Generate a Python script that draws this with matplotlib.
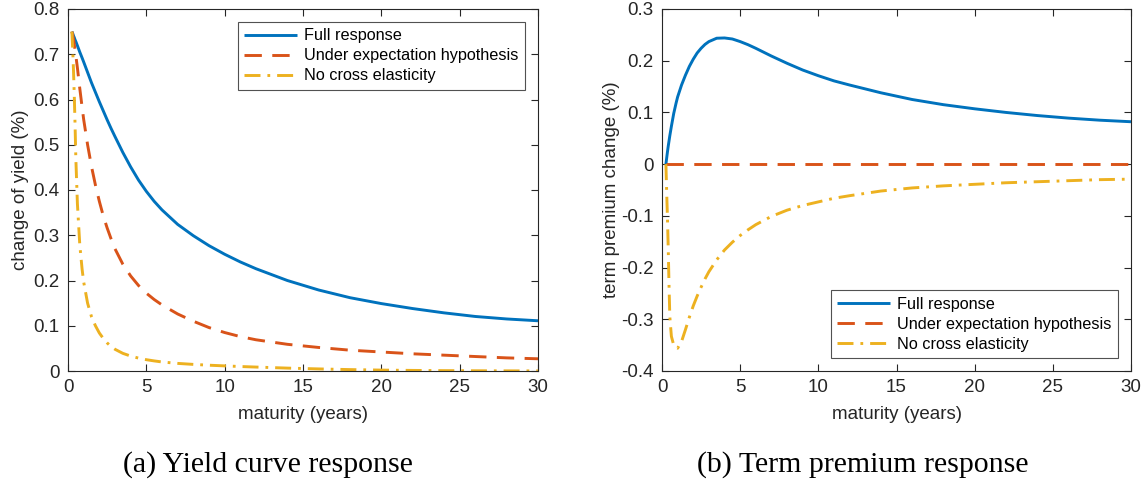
import matplotlib
matplotlib.use('Agg')
import matplotlib.pyplot as plt

plt.rcParams['font.family'] = ['Liberation Sans', 'DejaVu Sans']
plt.rcParams['axes.unicode_minus'] = False
plt.rcParams['lines.scale_dashes'] = False

# maturities (years)
maturity = [0.25, 0.3, 0.35, 0.4, 0.45, 0.5, 0.6, 0.75, 0.9, 1, 1.25, 1.5, 1.75, 2, 2.25,
            2.5, 2.75, 3, 3.5, 4, 4.5, 5, 5.5, 6, 7, 8, 9, 10, 11, 12, 14, 16, 18, 20,
            22, 24, 26, 28, 30]

# (a) yield curve response
yield_full = [0.750, 0.746, 0.741, 0.737, 0.732, 0.728, 0.719, 0.705, 0.692, 0.683, 0.660,
              0.637, 0.616, 0.595, 0.575, 0.555, 0.536, 0.518, 0.483, 0.451, 0.422, 0.397,
              0.375, 0.356, 0.324, 0.299, 0.277, 0.258, 0.241, 0.226, 0.200, 0.179, 0.162,
              0.149, 0.138, 0.1285, 0.1205, 0.115, 0.111]
yield_eh = [0.750, 0.742, 0.733, 0.722, 0.710, 0.697, 0.670, 0.625, 0.583, 0.556, 0.500,
            0.452, 0.411, 0.375, 0.343, 0.316, 0.292, 0.270, 0.236, 0.210, 0.189, 0.172,
            0.158, 0.146, 0.126, 0.110, 0.096, 0.085, 0.076, 0.069, 0.059, 0.052, 0.046,
            0.042, 0.038, 0.035, 0.032, 0.029, 0.027]
yield_nocross = [0.750, 0.710, 0.665, 0.610, 0.545, 0.470, 0.370, 0.280, 0.225, 0.197, 0.150,
                 0.120, 0.100, 0.084, 0.072, 0.062, 0.054, 0.048, 0.039, 0.033, 0.0285, 0.025,
                 0.0223, 0.020, 0.0168, 0.0146, 0.0128, 0.0113, 0.0099, 0.0087, 0.0064, 0.0046,
                 0.0031, 0.0020, 0.0013, 0.0008, 0.0005, 0.0003, 0.0002]

# (b) term premium response
tp_full = [0.0, 0.012, 0.024, 0.035, 0.045, 0.055, 0.073, 0.098, 0.118, 0.130, 0.153,
           0.172, 0.189, 0.203, 0.215, 0.224, 0.2315, 0.237, 0.2435, 0.244, 0.242, 0.237,
           0.231, 0.224, 0.209, 0.195, 0.182, 0.171, 0.161, 0.153, 0.138, 0.125, 0.115,
           0.107, 0.100, 0.094, 0.089, 0.085, 0.082]
tp_eh = [0.0] * len(maturity)
tp_nocross = [0.0, -0.055, -0.105, -0.165, -0.235, -0.295, -0.333, -0.350, -0.355, -0.356, -0.343,
              -0.320, -0.296, -0.274, -0.255, -0.238, -0.222, -0.208, -0.185, -0.166, -0.151, -0.138,
              -0.127, -0.117, -0.101, -0.089, -0.080, -0.073, -0.066, -0.061, -0.052, -0.046, -0.042,
              -0.039, -0.036, -0.034, -0.032, -0.030, -0.029]

labels = ['Full response', 'Under expectation hypothesis', 'No cross elasticity']
colors = ['#0072BD', '#D95319', '#EDB120']
dash_styles = [(0, ()), (0, (12.5, 7.5)), (0, (11.5, 5, 2, 5))]
grey = '#262626'
fs = 13.5

fig = plt.figure(figsize=(11.43, 4.83), dpi=100)
ax1 = fig.add_axes([68 / 1143, 1 - 371 / 483, 470 / 1143, 362 / 483])
ax2 = fig.add_axes([662 / 1143, 1 - 371 / 483, 469 / 1143, 362 / 483])

for ax, series in [(ax1, [yield_full, yield_eh, yield_nocross]),
                   (ax2, [tp_full, tp_eh, tp_nocross])]:
    for s, c, ls, lab in zip(series, colors, dash_styles, labels):
        ax.plot(maturity, s, color=c, linestyle=ls, linewidth=2.1, label=lab)
    ax.set_xlim(0, 30)
    ax.set_xticks(range(0, 31, 5))
    ax.tick_params(direction='in', top=True, right=True, length=5, width=0.8,
                   labelsize=fs, colors=grey, pad=6)
    for sp in ax.spines.values():
        sp.set_color(grey)
        sp.set_linewidth(0.8)
    ax.set_xlabel('maturity (years)', fontsize=fs, color=grey)
    ax.xaxis.set_label_coords(0.5, -0.097)

ax1.set_ylim(0, 0.8)
ax1.set_yticks([0, 0.1, 0.2, 0.3, 0.4, 0.5, 0.6, 0.7, 0.8])
ax1.set_yticklabels(['0', '0.1', '0.2', '0.3', '0.4', '0.5', '0.6', '0.7', '0.8'])
ax1.set_ylabel('change of yield (%)', fontsize=fs, color=grey, va='center')
ax1.yaxis.set_label_coords(-0.102, 0.5)

ax2.set_ylim(-0.4, 0.3)
ax2.set_yticks([-0.4, -0.3, -0.2, -0.1, 0, 0.1, 0.2, 0.3])
ax2.set_yticklabels(['-0.4', '-0.3', '-0.2', '-0.1', '0', '0.1', '0.2', '0.3'])
ax2.set_ylabel('term premium change (%)', fontsize=fs, color=grey, va='center')
ax2.yaxis.set_label_coords(-0.107, 0.5)

for ax, loc in [(ax1, 'upper right'), (ax2, 'lower right')]:
    leg = ax.legend(loc=loc, fontsize=11.7, frameon=True, fancybox=False,
                    handlelength=3.25, borderaxespad=0.8, borderpad=0.4,
                    labelspacing=0.3, handletextpad=0.45)
    leg.get_frame().set_edgecolor(grey)
    leg.get_frame().set_linewidth(0.8)

fig.text(268 / 1143, 1 - 465 / 483, '(a) Yield curve response', ha='center', va='center',
         fontsize=21.5, family='Liberation Serif')
fig.text(863 / 1143, 1 - 465 / 483, '(b) Term premium response', ha='center', va='center',
         fontsize=21.5, family='Liberation Serif')

fig.savefig('out.png', dpi=100)
